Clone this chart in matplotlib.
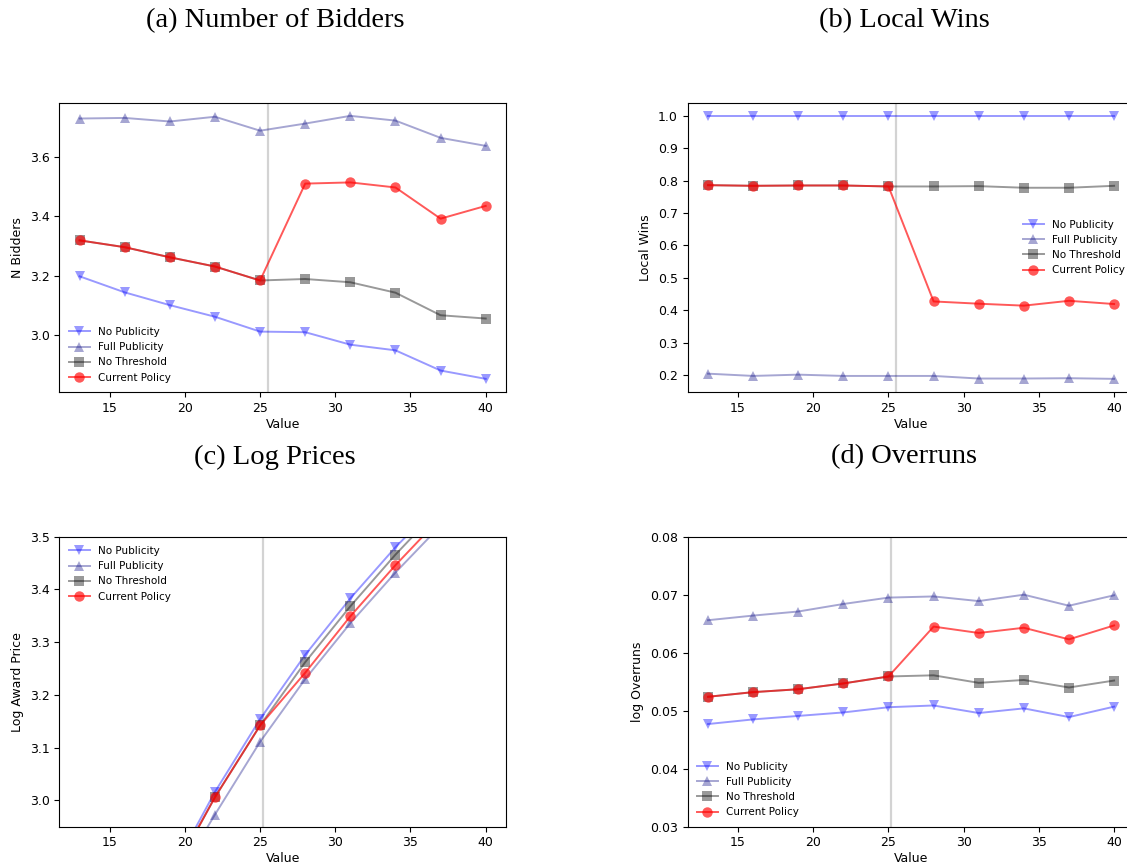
import numpy as np
import matplotlib.pyplot as plt

# project value grid shared by every panel
values = [13, 16, 19, 22, 25, 28, 31, 34, 37, 40]

# (a) number of bidders
bidders_no_pub = [3.198, 3.144, 3.101, 3.062, 3.012, 3.010, 2.968, 2.949, 2.881, 2.853]
bidders_full_pub = [3.729, 3.731, 3.719, 3.735, 3.688, 3.712, 3.738, 3.722, 3.664, 3.637]
bidders_no_thr = [3.319, 3.296, 3.262, 3.231, 3.184, 3.189, 3.178, 3.143, 3.067, 3.056]
bidders_current = [3.319, 3.296, 3.262, 3.231, 3.184, 3.510, 3.514, 3.497, 3.392, 3.435]

# (b) share of local wins
wins_no_pub = [1.0, 1.0, 1.0, 1.0, 1.0, 1.0, 1.0, 1.0, 1.0, 1.0]
wins_full_pub = [0.204, 0.197, 0.201, 0.197, 0.197, 0.197, 0.189, 0.189, 0.190, 0.188]
wins_no_thr = [0.786, 0.784, 0.785, 0.785, 0.782, 0.782, 0.783, 0.778, 0.778, 0.784]
wins_current = [0.786, 0.784, 0.785, 0.785, 0.782, 0.427, 0.420, 0.414, 0.429, 0.419]

# (c) log award price
price_no_pub = [2.48, 2.68, 2.858, 3.016, 3.154, 3.276, 3.383, 3.480, 3.567, 3.645]
price_full_pub = [2.45, 2.65, 2.830, 2.973, 3.111, 3.230, 3.336, 3.432, 3.521, 3.600]
price_no_thr = [2.47, 2.67, 2.850, 3.006, 3.142, 3.262, 3.368, 3.466, 3.556, 3.635]
price_current = [2.47, 2.67, 2.850, 3.006, 3.142, 3.242, 3.349, 3.446, 3.536, 3.615]

# (d) log overruns
over_no_pub = [0.0477, 0.0485, 0.0491, 0.0497, 0.0506, 0.0509, 0.0496, 0.0504, 0.0489, 0.0507]
over_full_pub = [0.0656, 0.0664, 0.0671, 0.0684, 0.0695, 0.0697, 0.0689, 0.0700, 0.0681, 0.0699]
over_no_thr = [0.0524, 0.0532, 0.0537, 0.0547, 0.0559, 0.0561, 0.0548, 0.0553, 0.0540, 0.0552]
over_current = [0.0524, 0.0532, 0.0537, 0.0547, 0.0559, 0.0645, 0.0634, 0.0643, 0.0623, 0.0647]

policy_names = ['No Publicity', 'Full Publicity', 'No Threshold', 'Current Policy']
policy_styles = [
    dict(color='blue', marker='v', alpha=0.4),
    dict(color='navy', marker='^', alpha=0.35),
    dict(color='black', marker='s', alpha=0.4),
    dict(color='red', marker='o', alpha=0.65),
]


def draw_panel(ax, series, ylabel, threshold, legend_loc, ylim=None, yticks=None):
    ax.axvline(threshold, color='lightgray', lw=1.6, zorder=0)
    for name, ys, style in zip(policy_names, series, policy_styles):
        ax.plot(values, ys, label=name, lw=1.4, ms=7.5, mew=0, **style)
    if ylim is not None:
        ax.set_ylim(*ylim)
    if yticks is not None:
        ax.set_yticks(yticks)
    ax.set_xticks([15, 20, 25, 30, 35, 40])
    ax.set_xlabel('Value', fontsize=9, labelpad=2)
    ax.set_ylabel(ylabel, fontsize=9)
    ax.tick_params(labelsize=9)
    ax.legend(loc=legend_loc, frameon=False, fontsize=7.5)


W, H = 1127, 865
fig = plt.figure(figsize=(W / 100, H / 100), dpi=100)


def rect(left, top, right, bottom):
    return [left / W, 1 - bottom / H, (right - left) / W, (bottom - top) / H]


ax_a = fig.add_axes(rect(59.3, 102.7, 506, 392))
ax_b = fig.add_axes(rect(687.7, 102.7, 1134.4, 392))
ax_c = fig.add_axes(rect(59.3, 536.7, 506, 826.7))
ax_d = fig.add_axes(rect(687.7, 536.7, 1134.4, 826.7))

draw_panel(ax_a, [bidders_no_pub, bidders_full_pub, bidders_no_thr, bidders_current],
           'N Bidders', 25.5, 'lower left', yticks=[3.0, 3.2, 3.4, 3.6])
draw_panel(ax_b, [wins_no_pub, wins_full_pub, wins_no_thr, wins_current],
           'Local Wins', 25.5, 'center right', yticks=np.arange(0.2, 1.01, 0.1))
draw_panel(ax_c, [price_no_pub, price_full_pub, price_no_thr, price_current],
           'Log Award Price', 25.2, 'upper left', ylim=(2.95, 3.5),
           yticks=[3.0, 3.1, 3.2, 3.3, 3.4, 3.5])
draw_panel(ax_d, [over_no_pub, over_full_pub, over_no_thr, over_current],
           'log Overruns', 25.2, 'lower left', ylim=(0.03, 0.08),
           yticks=[0.03, 0.04, 0.05, 0.06, 0.07, 0.08])

# subfigure captions
title_font = dict(family='Liberation Serif', fontsize=20.5, ha='center', va='center')
fig.text(275 / W, 1 - 21 / H, '(a) Number of Bidders', **title_font)
fig.text(904 / W, 1 - 21 / H, '(b) Local Wins', **title_font)
fig.text(275 / W, 1 - 457 / H, '(c) Log Prices', **title_font)
fig.text(904 / W, 1 - 457 / H, '(d) Overruns', **title_font)

fig.savefig('out.png', dpi=100)
